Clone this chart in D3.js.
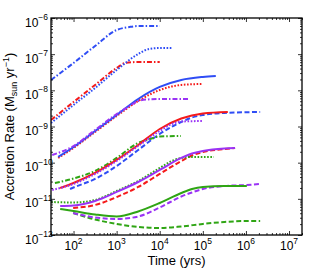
<!DOCTYPE html>
<html>
<head>
<meta charset="utf-8">
<script src="https://cdn.jsdelivr.net/npm/d3@7"></script>
<style>
  body { margin: 0; background: #fff; }
  text { font-family: "Liberation Sans", Arial, sans-serif; fill: #000; }
</style>
</head>
<body>
<div id="chart"></div>
<script>
// [time (yrs), accretion rate (Msun/yr)]
const blueDashDot = [[30, 1.93e-8], [100, 5.7e-8], [316, 1.68e-7], [1000, 4.66e-7], [2000, 5.64e-7], [3162, 6.0e-7], [10000, 6.0e-7]];
const blueDotted = [[30, 1.25e-9], [100, 3.94e-9], [316, 1.16e-8], [1000, 3.65e-8], [3162, 1.01e-7], [5623, 1.39e-7], [10000, 1.48e-7], [20000, 1.48e-7]];
const blueSolid = [[44, 1.44e-10], [100, 2.71e-10], [316, 7.5e-10], [1000, 2.08e-9], [3162, 5.77e-9], [10000, 1.24e-8], [31623, 1.93e-8], [100000, 2.34e-8], [200000, 2.49e-8]];
const blueDashed = [[83, 1.87e-11], [100, 2.06e-11], [316, 3.54e-11], [1000, 8.09e-11], [3162, 2.24e-10], [10000, 6.21e-10], [31623, 1.33e-9], [56000, 1.77e-9], [100000, 2.08e-9], [316000, 2.37e-9], [2140000, 2.52e-9]];

const redDashDot = [[30, 1.51e-9], [100, 4.76e-9], [316, 1.41e-8], [1000, 4.15e-8], [1585, 5.7e-8], [3162, 6.08e-8], [10000, 6.08e-8]];
const redDotted = [[44, 1.35e-10], [100, 2.55e-10], [316, 7.05e-10], [1000, 1.95e-9], [3162, 5.07e-9], [10000, 1.02e-8], [31623, 1.41e-8], [100000, 1.5e-8]];
const redSolid = [[49, 2.0e-11], [100, 2.74e-11], [316, 5.19e-11], [1000, 1.19e-10], [3162, 3.08e-10], [10000, 8.53e-10], [31623, 1.66e-9], [100000, 2.29e-9], [380000, 2.52e-9]];
const redDashed = [[98, 5.58e-12], [316, 6.76e-12], [1000, 1.12e-11], [3162, 2.13e-11], [10000, 4.87e-11], [31623, 1.11e-10], [56000, 1.58e-10], [100000, 1.97e-10], [316000, 2.39e-10], [560000, 2.55e-10]];

const purpleDashDot = [[32, 1.63e-10], [100, 2.89e-10], [316, 8.0e-10], [1000, 2.22e-9], [2000, 3.69e-9], [3162, 5.07e-9], [5000, 5.58e-9], [10000, 5.77e-9], [46000, 5.77e-9]];
const purpleDotted = [[32, 1.76e-11], [100, 2.58e-11], [316, 4.87e-11], [1000, 1.11e-10], [3162, 2.89e-10], [10000, 7.52e-10], [19200, 1.17e-9], [31623, 1.37e-9], [100000, 1.42e-9]];
const purpleSolid = [[49, 6.34e-12], [100, 6.55e-12], [316, 8.73e-12], [1000, 1.55e-11], [3162, 2.92e-11], [10000, 6.28e-11], [31623, 1.35e-10], [56000, 1.79e-10], [100000, 2.1e-10], [316000, 2.47e-10], [560000, 2.55e-10]];
const purpleDashed = [[98, 4.06e-12], [316, 3.05e-12], [1000, 2.77e-12], [3162, 3.25e-12], [10000, 5.77e-12], [31623, 1.16e-11], [56000, 1.5e-11], [100000, 1.87e-11], [316000, 2.26e-11], [1000000, 2.41e-11], [2140000, 2.58e-11]];

const greenDashDot = [[37, 2.74e-11], [100, 3.65e-11], [316, 5.89e-11], [1000, 1.35e-10], [3162, 3.5e-10], [5900, 4.52e-10], [10000, 5.3e-10], [31000, 5.47e-10]];
const greenDotted = [[30, 8.18e-12], [100, 7.93e-12], [316, 9.29e-12], [1000, 1.65e-11], [3162, 3.12e-11], [10000, 7.13e-11], [19000, 1.11e-10], [31623, 1.35e-10], [56000, 1.44e-10], [180000, 1.44e-10]];
const greenSolid = [[49, 5.24e-12], [100, 4.61e-12], [316, 3.69e-12], [1000, 3.25e-12], [3162, 4.47e-12], [10000, 7.67e-12], [31623, 1.45e-11], [56000, 1.87e-11], [100000, 2.13e-11], [316000, 2.26e-11], [1050000, 2.26e-11]];
const greenDashed = [[98, 4.06e-12], [316, 2.69e-12], [1000, 2.02e-12], [3162, 1.67e-12], [10000, 1.56e-12], [31623, 1.72e-12], [100000, 2.02e-12], [316000, 2.29e-12], [1000000, 2.44e-12], [2140000, 2.44e-12]];

const xTickExps = [2, 3, 4, 5, 6, 7];
const yTickExps = [-6, -7, -8, -9, -10, -11, -12];

const width = 328;
const height = 269;
const margin = {left: 51, right: 26, top: 18, bottom: 34};

const blue = "#2f4df5", red = "#f51a1a", purple = "#9a33f5", green = "#2fa514";
const dash = {solid: null, dashed: "5,2.5", dotted: "1.6,1.6", dashDot: "5,2,1.5,2"};

const series = [
    {data: greenDashed, color: green, style: "dashed"},
    {data: purpleDashed, color: purple, style: "dashed"},
    {data: greenSolid, color: green, style: "solid"},
    {data: redDashed, color: red, style: "dashed"},
    {data: greenDotted, color: green, style: "dotted"},
    {data: purpleSolid, color: purple, style: "solid"},
    {data: blueDashed, color: blue, style: "dashed"},
    {data: greenDashDot, color: green, style: "dashDot"},
    {data: redSolid, color: red, style: "solid"},
    {data: purpleDotted, color: purple, style: "dotted"},
    {data: redDotted, color: red, style: "dotted"},
    {data: blueSolid, color: blue, style: "solid"},
    {data: purpleDashDot, color: purple, style: "dashDot"},
    {data: redDashDot, color: red, style: "dashDot"},
    {data: blueDotted, color: blue, style: "dotted"},
    {data: blueDashDot, color: blue, style: "dashDot"}
];

const svg = d3.select('#chart')
    .append('svg')
    .attr('width', width)
    .attr('height', height)

const x = d3.scaleLog()
    .domain([30, 2e7])
    .range([margin.left, width - margin.right]);

const y = d3.scaleLog()
    .domain([1e-12, 1e-6])
    .range([height - margin.bottom, margin.top]);

svg.append("clipPath").attr("id", "clip")
    .append("rect")
    .attr("x", margin.left).attr("y", margin.top)
    .attr("width", width - margin.left - margin.right)
    .attr("height", height - margin.top - margin.bottom);

const line = d3.line()
    .x(d => x(d[0]))
    .y(d => y(d[1]))
    .curve(d3.curveMonotoneX);

svg.append("g")
    .attr("clip-path", "url(#clip)")
    .selectAll("path")
    .data(series)
    .enter()
    .append("path")
    .attr("fill", "none")
    .attr("stroke", d => d.color)
    .attr("stroke-width", 2)
    .attr("stroke-dasharray", d => dash[d.style])
    .attr("d", d => line(d.data));

// ticks, inward on all four sides (major + minor)
const xMajor = xTickExps.map(e => Math.pow(10, e));
const yMajor = yTickExps.map(e => Math.pow(10, e));
const xMinor = x.ticks().filter(v => !xMajor.includes(v) && v >= 30);
const yMinor = y.ticks().filter(v => !yMajor.includes(v));

function tickAxis(axisFn, scale, vals, len, transform) {
    const g = svg.append("g")
        .attr("transform", transform)
        .call(axisFn(scale).tickValues(vals).tickSize(len).tickFormat(""));
    g.select(".domain").remove();
    g.selectAll("line").attr("stroke", "#000").attr("stroke-width", 0.8);
}
const bottomY = height - margin.bottom, rightX = width - margin.right;
tickAxis(d3.axisBottom, x, xMajor, -4, `translate(0,${bottomY})`);
tickAxis(d3.axisBottom, x, xMinor, -2, `translate(0,${bottomY})`);
tickAxis(d3.axisTop, x, xMajor, -4, `translate(0,${margin.top})`);
tickAxis(d3.axisTop, x, xMinor, -2, `translate(0,${margin.top})`);
tickAxis(d3.axisLeft, y, yMajor, -4, `translate(${margin.left},0)`);
tickAxis(d3.axisLeft, y, yMinor, -2, `translate(${margin.left},0)`);
tickAxis(d3.axisRight, y, yMajor, -4, `translate(${rightX},0)`);
tickAxis(d3.axisRight, y, yMinor, -2, `translate(${rightX},0)`);

svg.append("rect")
    .attr("x", margin.left).attr("y", margin.top)
    .attr("width", rightX - margin.left)
    .attr("height", bottomY - margin.top)
    .attr("fill", "none")
    .attr("stroke", "#000")
    .attr("stroke-width", 1.3);

// tick labels 10^n
const xl = svg.append("g").selectAll("text")
    .data(xTickExps).enter()
    .append("text")
    .attr("x", d => x(Math.pow(10, d)))
    .attr("y", bottomY + 15)
    .attr("text-anchor", "middle")
    .attr("font-size", 12);
xl.append("tspan").text("10");
xl.append("tspan").attr("dy", -6).attr("font-size", 8.5).text(d => d);

const yl = svg.append("g").selectAll("text")
    .data(yTickExps).enter()
    .append("text")
    .attr("x", 25)
    .attr("y", d => y(Math.pow(10, d)) + 8.5)
    .attr("font-size", 12);
yl.append("tspan").text("10");
yl.append("tspan").attr("dy", -6.5).attr("font-size", 8.5).text(d => "\u2212" + (-d));

svg.append("text")
    .attr("x", (margin.left + rightX) / 2)
    .attr("y", 264.5)
    .attr("text-anchor", "middle")
    .attr("font-size", 13)
    .text("Time (yrs)");

const yt = svg.append("text")
    .attr("transform", `translate(14,${(margin.top + bottomY) / 2}) rotate(-90)`)
    .attr("text-anchor", "middle")
    .attr("font-size", 13);
yt.append("tspan").text("Accretion Rate (M");
yt.append("tspan").attr("dy", 3).attr("font-size", 9).text("sun");
yt.append("tspan").attr("dy", -3).text(" yr");
yt.append("tspan").attr("dy", -5).attr("font-size", 9).text("\u22121");
yt.append("tspan").attr("dy", 5).text(")");
</script>
</body>
</html>
